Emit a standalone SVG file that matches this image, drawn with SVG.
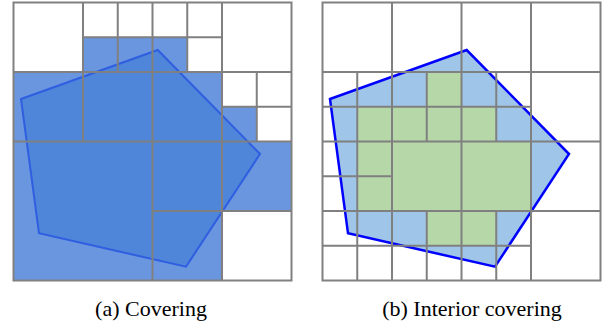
<svg xmlns="http://www.w3.org/2000/svg" width="602" height="324" viewBox="0 0 602 324">
<style>
.grid{fill:none;stroke:#808080;stroke-width:2}
.cell{fill:#6a96e0;stroke:none}
.green{fill:#b6d7a8;stroke:none}
.cap{font-family:"Liberation Serif","Times New Roman",serif;font-size:22px;fill:#000;text-anchor:middle}
</style>
<rect width="602" height="324" fill="#fff"/>
<g id="panel-a">
  <g id="cells-a">
    <rect class="cell" x="83" y="37.25" width="104.25" height="34.75"/>
    <rect class="cell" x="13.5" y="72" width="208.5" height="69.5"/>
    <rect class="cell" x="222" y="106.75" width="34.75" height="34.75"/>
    <rect class="cell" x="13.5" y="141.5" width="278" height="69.5"/>
    <rect class="cell" x="13.5" y="211" width="208.5" height="69.5"/>
  </g>
  <polygon id="polygon-a" points="21,99 157.7,50 260,154 186,266.7 39,233.3" fill="#4f86d9" stroke="#2f5ee0" stroke-width="2"/>
  <g id="grid-a" class="grid">
    <rect x="13.5" y="2.5" width="278" height="278"/>
    <path d="M83 37.25H222M13.5 72H291.5M222 106.75H291.5M13.5 141.5H291.5M152.5 211H291.5M83 2.5V141.5M117.75 2.5V72M152.5 2.5V280.5M187.25 2.5V72M222 2.5V280.5M256.75 72V141.5"/>
  </g>
  <text class="cap" x="151" y="316">(a) Covering</text>
</g>
<g id="panel-b">
  <g transform="translate(309,0)">
    <polygon id="polygon-b-fill" points="21,99 157.7,50 260,154 186,266.7 39,233.3" fill="#9fc5e8" stroke="none"/>
    <g id="cells-b">
      <rect class="green" x="117.75" y="72" width="34.75" height="34.75"/>
      <rect class="green" x="48.25" y="106.75" width="139" height="34.75"/>
      <rect class="green" x="48.25" y="141.5" width="173.75" height="69.5"/>
      <rect class="green" x="117.75" y="211" width="69.5" height="34.75"/>
    </g>
    <polygon id="polygon-b" points="21,99 157.7,50 260,154 186,266.7 39,233.3" fill="none" stroke="#0000ff" stroke-width="2.5"/>
    <g id="grid-b" class="grid">
      <rect x="13.5" y="2.5" width="278" height="278"/>
      <path d="M13.5 72H291.5M13.5 106.75H222M13.5 141.5H291.5M13.5 176.25H83M13.5 211H291.5M13.5 245.75H222M48.25 72V280.5M83 2.5V280.5M117.75 72V141.5M117.75 211V280.5M152.5 2.5V280.5M187.25 72V141.5M187.25 211V280.5M222 2.5V280.5"/>
    </g>
  </g>
  <text class="cap" x="472" y="316">(b) Interior covering</text>
</g>
</svg>
